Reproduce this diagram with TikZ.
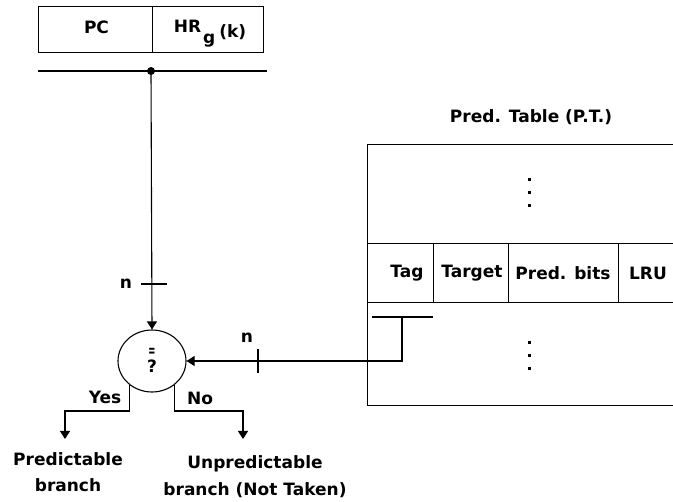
\documentclass[tikz,border=0pt]{standalone}
\usepackage{fontspec}
\setmainfont{DejaVu Sans}
\usetikzlibrary{arrows.meta,shapes.geometric}
\tikzset{
  wire/.style={line width=1.1pt, draw=black},
  flow/.style={wire, -{Triangle[length=8pt,width=10pt]}},
  lbl/.style={font=\fontsize{17}{26}\bfseries\selectfont, inner sep=0pt, align=center},
  cell/.style={draw, line width=1.1pt, inner sep=0pt, anchor=north west},
  dotmark/.style={fill, inner sep=0pt, minimum size=3pt},
}
\begin{document}
\begin{tikzpicture}[x=1pt,y=-1pt]
\useasboundingbox (0,0) rectangle (673,502);
\clip (0,0) rectangle (673,502);

% register: PC | HR_g(k)
\node[cell, minimum width=114pt, minimum height=46pt] (pc) at (38,6) {};
\node[cell, minimum width=111pt, minimum height=46pt] (hr) at (152,6) {};
\node[lbl, anchor=base] (pctxt) at (96.5,34) {PC};
\node[lbl, anchor=base] (hrtxt) at (210,33) {HR\kern2pt\raisebox{-11pt}{g}\kern4pt\raisebox{-5pt}{(k)}};

% bus with tap point
\coordinate (busL) at (38,71);
\coordinate (busR) at (267,71);
\draw[wire] (busL) -- (busR);
\node[circle, fill, inner sep=0pt, minimum size=8pt] (tap) at (151,71) {};

% comparator
\node[ellipse, wire, minimum width=68pt, minimum height=62pt, inner sep=0pt] (cmp) at (152,361) {};
\node[font=\fontsize{17}{16}\bfseries\selectfont, align=center, inner sep=0pt] (cmptxt)
      at (152,360) {\scalebox{0.5}[1]{=}\\?};

% n-bit path from the tap
\draw[flow] (tap) -- (cmp.north);
\coordinate (tk1) at (153,284);
\draw[wire] ([xshift=-12pt]tk1) -- ([xshift=14pt]tk1);
\node[lbl] (n1) at (126,284) {n};

% prediction table
\node[lbl] (ttl) at (531,117) {Pred. Table (P.T.)};
\node[cell, minimum width=340pt, minimum height=261pt] (pt) at (367,144) {};
\node[cell, minimum width=66pt, minimum height=59pt] (ctag) at (367,243) {};
\node[cell, minimum width=75pt, minimum height=59pt] (ctgt) at (433,243) {};
\node[cell, minimum width=110pt, minimum height=59pt] (cbits) at (508,243) {};
\node[cell, minimum width=90pt, minimum height=59pt] (clru) at (618,243) {};
\node[lbl] (ttag) at (407,273) {Tag};
\node[lbl] (ttgt) at (472,273) {Target};
\node[lbl] (tbits) at (563,273) {Pred. bits};
\node[lbl] (tlru) at (648,273) {LRU};

% ellipsis marks in the table
\foreach \y [count=\i] in {180,193,206} \node[dotmark] (ua\i) at (529,\y) {};
\foreach \y [count=\i] in {343,356,369} \node[dotmark] (la\i) at (529,\y) {};

% tag field pointer to the comparator
\coordinate (tgL) at (372,317);
\coordinate (tgR) at (433,317);
\coordinate (tgT) at (402,317);
\draw[wire] (tgL) -- (tgR);
\draw[flow] (tgT) |- (cmp.east);
\coordinate (tk2) at (258,361);
\draw[wire] ([yshift=-12pt]tk2) -- ([yshift=12pt]tk2);
\node[lbl] (n2) at (247,338) {n};

% outcomes
\coordinate (yesEnd) at (65,439);
\coordinate (noEnd) at (243,439);
\draw[flow] (cmp.227) -- ++(0,26) -| (yesEnd);
\draw[flow] (cmp.313) -- ++(0,26) -| (noEnd);
\node[lbl] (yes) at (105,397) {Yes};
\node[lbl] (no) at (200,398) {No};
\node[lbl, anchor=north] (pb) at (68,452) {Predictable\\branch};
\node[lbl, anchor=north, font=\fontsize{17}{27}\bfseries\selectfont] (ub) at (255,455) {Unpredictable\\branch (Not Taken)};
\end{tikzpicture}
\end{document}
